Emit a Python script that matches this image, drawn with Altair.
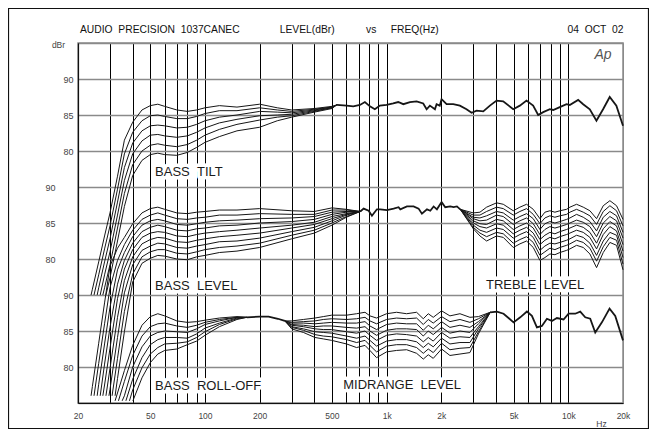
import altair as alt
import pandas as pd

NB = "\u00a0"

# dBr value that sits at the bottom edge of each of the three stacked bands
BASE = {"top": 45.0, "mid": 60.0, "bot": 75.0}

# ---------------- axes ----------------
X_GRID = [20, 30, 40, 50, 60, 70, 80, 90, 100, 200, 300, 400, 500, 600, 700, 800, 900,
          1000, 2000, 3000, 4000, 5000, 6000, 7000, 8000, 9000, 10000, 20000]
X_LABEL_F = [20, 50, 100, 200, 500, 1000, 2000, 5000, 10000, 20000]
X_LABEL_T = ["20", "50", "100", "200", "500", "1k", "2k", "5k", "10k", "20k"]
Y_GRID = [0, 5, 10, 15, 20, 25, 30, 35, 40, 45, 50]
Y_LABEL_POS = [5, 10, 15, 20, 25, 30, 35, 40, 45]
Y_LABEL_T = ["80", "85", "90", "80", "85", "90", "80", "85", "90"]

# ---------------- top band : BASS TILT ----------------
TILT_START_F = [23.6, 24.5, 25.5, 26.5, 27.4, 28.5]
TILT_START_D = 60.0
TILT_F = [24, 26, 28, 30, 33, 36, 40, 45, 50, 55, 60, 70, 80, 90, 100, 120, 150, 200, 250, 300, 400, 500]
TILT_0 = [60.8, 64.6, 68.2, 71.4, 76.5, 81.5, 84.0, 85.7, 86.3, 86.5, 86.2, 85.7, 85.5, 85.7, 86.0, 86.3, 86.1, 86.5, 86.0, 85.7, 85.9, 86.2]
TILT_1 = [None, 62.8, 66.4, 69.6, 74.7, 79.6, 82.6, 84.2, 84.9, 85.0, 84.8, 84.5, 84.5, 84.8, 85.2, 85.6, 85.6, 86.0, 85.7, 85.5, 85.8, 86.1]
TILT_2 = [None, 61.0, 64.6, 67.8, 72.9, 77.7, 81.1, 82.8, 83.5, 83.6, 83.5, 83.2, 83.3, 83.7, 84.2, 84.7, 85.0, 85.5, 85.4, 85.3, 85.7, 86.1]
TILT_3 = [None, None, 62.8, 66.0, 71.1, 75.9, 79.6, 81.4, 82.2, 82.3, 82.1, 81.9, 82.1, 82.6, 83.2, 83.9, 84.4, 84.9, 85.0, 85.1, 85.6, 86.0]
TILT_4 = [None, None, 61.0, 64.2, 69.3, 74.1, 78.1, 80.0, 80.8, 81.0, 80.8, 80.6, 80.9, 81.5, 82.2, 83.0, 83.7, 84.3, 84.7, 84.9, 85.5, 86.0]
TILT_5 = [None, None, None, 62.4, 67.5, 72.3, 76.6, 78.7, 79.5, 79.7, 79.5, 79.4, 79.8, 80.5, 81.2, 82.0, 82.8, 83.3, 84.2, 84.7, 85.4, 85.9]
TOP_SHARED_F = [531, 602, 655, 713, 759, 809, 861, 918, 999, 1087, 1158, 1235, 1344, 1462, 1590, 1660, 1730, 1844, 1883, 1960,
                2006, 2138, 2326, 2530, 2752, 2935, 3128, 3403, 3702, 4027, 4381, 4974, 5410, 5886, 6403, 6826, 7277, 7915, 8255, 8980,
                9769, 10188, 11326, 12070, 13130, 14283, 15538, 16902, 18387, 20000]
TOP_SHARED_D = [86.4, 86.3, 86.2, 86.4, 86.8, 86.2, 85.8, 86.3, 86.4, 86.6, 86.8, 86.5, 86.8, 86.9, 86.6, 85.8, 86.3, 85.8, 86.5, 86.3,
                87.2, 86.5, 86.5, 86.3, 85.8, 85.3, 85.6, 85.5, 86.3, 87.0, 86.9, 85.8, 86.3, 87.0, 86.3, 85.0, 85.4, 85.8, 85.7, 86.1,
                86.5, 86.4, 87.1, 86.5, 85.8, 84.2, 85.8, 87.5, 86.3, 83.5]

# ---------------- middle band : BASS LEVEL / TREBLE LEVEL ----------------
BASSLEV_START_F = [23.6, 24.5, 25.5, 26.5, 27.4, 28.5, 29.6, 30.8, 32.0]
BASSLEV_START_D = 61.0
BASSLEV_F = [24, 26, 28, 30, 33, 36, 40, 45, 50, 55, 60, 70, 80, 90, 100, 120, 150, 200, 300, 400, 500, 600]
BASSLEV_0 = [62.3, 68.3, 73.9, 79.0, 81.5, 83.0, 84.9, 86.4, 87.0, 87.2, 86.9, 86.4, 86.3, 86.5, 86.6, 86.8, 86.8, 87.0, 86.7, 86.6, 87.1, 86.9]
BASSLEV_1 = [None, 65.5, 71.0, 76.0, 79.8, 82.0, 84.0, 85.5, 86.1, 86.4, 86.1, 85.6, 85.5, 85.7, 85.8, 86.1, 86.1, 86.3, 86.2, 86.2, 86.8, 86.8]
BASSLEV_2 = [None, 62.6, 68.2, 73.3, 78.5, 80.9, 83.1, 84.7, 85.3, 85.5, 85.3, 84.8, 84.7, 84.9, 85.1, 85.3, 85.4, 85.6, 85.7, 85.9, 86.5, 86.6]
BASSLEV_3 = [None, None, 65.4, 70.5, 76.5, 79.8, 82.2, 83.8, 84.4, 84.7, 84.5, 84.0, 83.9, 84.2, 84.3, 84.6, 84.7, 85.0, 85.2, 85.5, 86.2, 86.5]
BASSLEV_4 = [None, None, 62.5, 67.6, 74.5, 78.6, 81.3, 83.0, 83.6, 83.8, 83.7, 83.2, 83.1, 83.4, 83.6, 83.8, 84.0, 84.3, 84.7, 85.1, 85.9, 86.3]
BASSLEV_5 = [None, None, None, 64.8, 71.9, 77.0, 80.3, 82.1, 82.7, 83.0, 82.9, 82.4, 82.3, 82.6, 82.8, 83.1, 83.3, 83.6, 84.3, 84.8, 85.6, 86.2]
BASSLEV_6 = [None, None, None, 61.9, 69.1, 75.3, 79.2, 81.2, 81.8, 82.2, 82.1, 81.6, 81.5, 81.8, 82.0, 82.4, 82.5, 82.9, 83.8, 84.4, 85.3, 86.1]
BASSLEV_7 = [None, None, None, None, 66.2, 72.7, 77.9, 80.3, 81.0, 81.3, 81.3, 80.8, 80.7, 81.0, 81.3, 81.6, 81.8, 82.2, 83.3, 84.0, 85.0, 85.9]
BASSLEV_8 = [None, None, None, None, 63.4, 69.9, 76.8, 79.4, 80.1, 80.5, 80.4, 80.0, 79.9, 80.3, 80.5, 80.9, 81.1, 81.6, 82.8, 83.6, 84.7, 85.8]
MID_SHARED_F = [716, 747, 796, 830, 884, 922, 1004, 1092, 1163, 1189, 1293, 1407, 1499, 1564, 1667, 1739, 1814, 1891, 2007, 2102, 2239, 2336, 2437, 2542]
MID_SHARED_D = [86.6, 87.0, 86.7, 86.0, 86.9, 86.9, 86.8, 87.0, 87.2, 86.9, 87.3, 87.3, 87.0, 86.3, 86.9, 86.7, 87.3, 86.9, 87.9, 87.2, 87.3, 87.2, 87.3, 86.9]
TREBLE_F = [2542, 3000, 3263, 3550, 4030, 4385, 4977, 5414, 5893, 6412, 6978, 7432, 7918, 8440, 8991, 9783, 10205, 11104, 12085, 13150, 14308, 15569, 16940, 18430, 20000]
TREBLE_0 = [86.9, 86.4, 86.5, 87.2, 87.8, 87.6, 86.7, 87.2, 87.6, 86.9, 85.6, 86.5, 86.7, 86.5, 86.7, 86.9, 87.2, 87.6, 87.2, 86.7, 85.6, 87.4, 88.1, 87.4, 85.5]
TREBLE_1 = [86.9, 86.1, 86.1, 86.6, 87.2, 87.0, 86.1, 86.6, 87.0, 86.2, 84.9, 85.7, 86.0, 85.8, 86.0, 86.2, 86.5, 86.9, 86.5, 86.0, 84.8, 86.6, 87.4, 86.7, 84.6]
TREBLE_2 = [86.9, 85.8, 85.7, 86.0, 86.6, 86.4, 85.4, 85.9, 86.3, 85.6, 84.1, 84.9, 85.2, 85.0, 85.2, 85.5, 85.7, 86.2, 85.8, 85.2, 83.9, 85.8, 86.6, 86.0, 83.7]
TREBLE_3 = [86.9, 85.6, 85.3, 85.4, 86.1, 85.9, 84.8, 85.3, 85.7, 84.9, 83.4, 84.1, 84.5, 84.3, 84.5, 84.8, 85.0, 85.4, 85.1, 84.5, 83.1, 85.0, 85.9, 85.3, 82.9]
TREBLE_4 = [86.9, 85.3, 84.9, 84.8, 85.5, 85.3, 84.1, 84.6, 85.0, 84.3, 82.7, 83.3, 83.7, 83.5, 83.8, 84.1, 84.3, 84.7, 84.4, 83.7, 82.2, 84.2, 85.2, 84.6, 82.0]
TREBLE_5 = [86.9, 85.0, 84.5, 84.3, 84.9, 84.7, 83.5, 84.0, 84.4, 83.6, 82.0, 82.6, 83.0, 82.8, 83.1, 83.4, 83.6, 84.0, 83.7, 83.0, 81.4, 83.4, 84.5, 83.9, 81.1]
TREBLE_6 = [86.9, 84.7, 84.0, 83.7, 84.3, 84.1, 82.9, 83.4, 83.8, 83.0, 81.2, 81.8, 82.2, 82.1, 82.3, 82.6, 82.8, 83.3, 83.0, 82.2, 80.5, 82.5, 83.7, 83.3, 80.2]
TREBLE_7 = [86.9, 84.4, 83.6, 83.1, 83.7, 83.5, 82.2, 82.7, 83.1, 82.3, 80.5, 81.0, 81.5, 81.3, 81.6, 81.9, 82.1, 82.6, 82.3, 81.5, 79.7, 81.7, 83.0, 82.6, 79.3]
TREBLE_8 = [86.9, 84.2, 83.2, 82.5, 83.2, 83.0, 81.6, 82.1, 82.5, 81.6, 79.8, 80.2, 80.7, 80.6, 80.9, 81.2, 81.4, 81.9, 81.6, 80.7, 78.8, 80.9, 82.3, 81.9, 78.5]

# ---------------- bottom band : BASS ROLL-OFF / MIDRANGE LEVEL ----------------
ROLL_START_F = [32.0, 33.4, 35.0, 36.7, 38.4, 40.1]
ROLL_START_D = 75.3
ROLL_F = [36, 40, 45, 50, 55, 60, 70, 80, 90, 100, 120, 150]
ROLL_0 = [79.5, 83.0, 85.8, 87.0, 87.4, 87.1, 86.4, 86.2, 86.3, 86.5, 86.8, 87.0]
ROLL_1 = [78.0, 81.6, 84.3, 85.6, 86.0, 86.1, 85.7, 85.5, 85.8, 86.2, 86.6, 86.9]
ROLL_2 = [76.0, 80.0, 82.8, 84.3, 84.8, 85.0, 84.9, 84.8, 85.3, 85.9, 86.4, 86.9]
ROLL_3 = [None, 78.3, 81.3, 83.1, 83.8, 84.1, 84.1, 84.0, 84.6, 85.4, 86.1, 86.8]
ROLL_4 = [None, 76.8, 79.9, 81.8, 82.7, 83.2, 83.3, 83.5, 84.1, 84.9, 85.9, 86.7]
ROLL_5 = [None, None, 78.5, 80.6, 81.8, 82.3, 82.5, 83.1, 83.6, 84.4, 85.6, 86.6]
BOT_SHARED_LO_F = [170, 200, 224, 252, 275]
BOT_SHARED_LO_D = [86.9, 87.0, 87.0, 86.7, 86.4]
MIDR_F = [275, 300, 348, 403, 448, 498, 602, 683, 760, 809, 880, 999, 1134, 1288, 1462, 1591, 1695, 1805, 2007, 2230, 2532, 2873, 3200, 3718]
MIDR_0 = [86.4, 86.4, 86.6, 86.8, 87.0, 87.2, 87.2, 87.4, 87.6, 87.1, 86.8, 87.4, 87.6, 87.4, 87.6, 86.7, 87.4, 86.9, 87.8, 87.1, 87.4, 86.9, 87.0, 87.6]
MIDR_1 = [86.4, 86.2, 86.3, 86.4, 86.6, 86.7, 86.6, 86.7, 86.9, 86.4, 86.0, 86.6, 86.8, 86.7, 86.8, 85.9, 86.6, 86.1, 87.0, 86.3, 86.6, 86.2, 86.7, 87.6]
MIDR_2 = [86.4, 86.1, 86.1, 86.0, 86.1, 86.2, 86.1, 86.1, 86.3, 85.7, 85.2, 85.9, 86.1, 86.0, 86.0, 85.1, 85.8, 85.3, 86.3, 85.5, 85.8, 85.5, 86.3, 87.6]
MIDR_3 = [86.4, 85.9, 85.8, 85.6, 85.7, 85.7, 85.5, 85.4, 85.6, 85.0, 84.4, 85.1, 85.3, 85.3, 85.2, 84.3, 85.0, 84.5, 85.5, 84.7, 85.0, 84.8, 86.0, 87.6]
MIDR_4 = [86.4, 85.8, 85.6, 85.3, 85.2, 85.2, 84.9, 84.7, 85.0, 84.4, 83.7, 84.4, 84.6, 84.5, 84.3, 83.5, 84.1, 83.6, 84.8, 84.0, 84.2, 84.1, 85.6, 87.6]
MIDR_5 = [86.4, 85.6, 85.3, 84.9, 84.8, 84.7, 84.3, 84.0, 84.3, 83.7, 82.9, 83.6, 83.8, 83.8, 83.5, 82.7, 83.3, 82.8, 84.0, 83.2, 83.4, 83.4, 85.3, 87.6]
MIDR_6 = [86.4, 85.5, 85.1, 84.5, 84.3, 84.2, 83.8, 83.4, 83.7, 83.0, 82.1, 82.9, 83.1, 83.1, 82.7, 81.9, 82.5, 82.0, 83.3, 82.4, 82.6, 82.7, 84.9, 87.6]
MIDR_7 = [86.4, 85.3, 84.8, 84.1, 83.9, 83.7, 83.2, 82.7, 83.0, 82.3, 81.3, 82.1, 82.3, 82.4, 81.9, 81.1, 81.7, 81.2, 82.5, 81.6, 81.8, 82.0, 84.6, 87.6]
BOT_SHARED_HI_F = [3718, 4046, 4402, 4996, 5437, 5918, 6303, 6717, 7155, 7625, 8122, 8654, 9417, 10033, 10917, 11632, 12393, 13204, 14069, 15307, 16868, 18128, 20000]
BOT_SHARED_HI_D = [87.6, 87.7, 87.4, 86.2, 86.9, 87.7, 87.1, 85.5, 85.7, 86.7, 86.4, 86.8, 86.6, 87.4, 87.4, 87.7, 86.9, 86.7, 84.8, 86.2, 88.1, 87.1, 83.7]

# ---------------- text ----------------
LABEL_TEXT = ["BASS" + NB * 2 + "TILT", "BASS" + NB * 2 + "LEVEL", "TREBLE" + NB * 2 + "LEVEL",
              "BASS" + NB * 2 + "ROLL-OFF", "MIDRANGE" + NB * 2 + "LEVEL"]
LABEL_F = [53.1, 53.1, 3520, 53.1, 577]
LABEL_D = [77.1, 76.3, 76.4, 77.4, 77.5]
LABEL_BAND = ["top", "mid", "mid", "bot", "bot"]
HEADER_PARTS = ["AUDIO" + NB * 2 + "PRECISION" + NB * 2 + "1037CANEC", "LEVEL(dBr)", "vs", "FREQ(Hz)",
                "04" + NB * 2 + "OCT" + NB * 2 + "02"]
HEADER_GAPS = [14, 11, 5, 45]
LOGO = "Ap"

# ---------------- build tables ----------------
thin_rows, bold_rows = [], []


def add(rows, name, fs, ds, band):
    assert len(fs) == len(ds), name
    for f, d in zip(fs, ds):
        if d is None:
            continue
        rows.append({"curve": name, "freq": f, "level": d - BASE[band]})


for k, arr in enumerate([TILT_0, TILT_1, TILT_2, TILT_3, TILT_4, TILT_5]):
    add(thin_rows, f"tilt{k}", [TILT_START_F[k]] + TILT_F + [TOP_SHARED_F[0]],
        [TILT_START_D] + arr + [TOP_SHARED_D[0]], "top")
add(bold_rows, "top_shared", TOP_SHARED_F, TOP_SHARED_D, "top")

for k, arr in enumerate([BASSLEV_0, BASSLEV_1, BASSLEV_2, BASSLEV_3, BASSLEV_4,
                         BASSLEV_5, BASSLEV_6, BASSLEV_7, BASSLEV_8]):
    add(thin_rows, f"basslev{k}", [BASSLEV_START_F[k]] + BASSLEV_F + [MID_SHARED_F[0]],
        [BASSLEV_START_D] + arr + [MID_SHARED_D[0]], "mid")
add(bold_rows, "mid_shared", MID_SHARED_F, MID_SHARED_D, "mid")
for k, arr in enumerate([TREBLE_0, TREBLE_1, TREBLE_2, TREBLE_3, TREBLE_4,
                         TREBLE_5, TREBLE_6, TREBLE_7, TREBLE_8]):
    add(thin_rows, f"treble{k}", TREBLE_F, arr, "mid")

for k, arr in enumerate([ROLL_0, ROLL_1, ROLL_2, ROLL_3, ROLL_4, ROLL_5]):
    add(thin_rows, f"roll{k}", [ROLL_START_F[k]] + ROLL_F + [BOT_SHARED_LO_F[0]],
        [ROLL_START_D] + arr + [BOT_SHARED_LO_D[0]], "bot")
add(bold_rows, "bot_shared_lo", BOT_SHARED_LO_F, BOT_SHARED_LO_D, "bot")
for k, arr in enumerate([MIDR_0, MIDR_1, MIDR_2, MIDR_3, MIDR_4, MIDR_5, MIDR_6, MIDR_7]):
    add(thin_rows, f"midr{k}", MIDR_F, arr, "bot")
add(bold_rows, "bot_shared_hi", BOT_SHARED_HI_F, BOT_SHARED_HI_D, "bot")

thin_df = pd.DataFrame(thin_rows)
bold_df = pd.DataFrame(bold_rows)
label_df = pd.DataFrame({
    "text": LABEL_TEXT,
    "freq": LABEL_F,
    "level": [d - BASE[b] for d, b in zip(LABEL_D, LABEL_BAND)],
})
header_text = HEADER_PARTS[0]
for gap, part in zip(HEADER_GAPS, HEADER_PARTS[1:]):
    header_text += NB * gap + part
one = pd.DataFrame({"k": [0]})

# ---------------- encodings ----------------
FONT = "Liberation Sans"
x_label_expr = (f"indexof({X_LABEL_F}, datum.value) >= 0 ? "
                f"{X_LABEL_T}[indexof({X_LABEL_F}, datum.value)] : ''")
y_label_expr = (f"indexof({Y_LABEL_POS}, datum.value) >= 0 ? "
                f"{Y_LABEL_T}[indexof({Y_LABEL_POS}, datum.value)] : ''")

x_enc = alt.X("freq:Q",
              scale=alt.Scale(type="log", domain=[20, 20000], nice=False),
              axis=alt.Axis(values=X_GRID, labelExpr=x_label_expr, grid=True,
                            gridColor={"condition": {"test": "datum.value >= 20000", "value": "#8a8a8a"},
                                       "value": "#000000"},
                            gridWidth=1.0, ticks=False, labelOverlap=False, labelFlush=False,
                            labelBound=False, labelPadding=8, labelFont=FONT, labelFontSize=8.5,
                            labelColor="#444444", title="Hz", titleFont=FONT, titleFontSize=8.5,
                            titleFontWeight="normal", titleColor="#444444", titleX=523, titleY=20,
                            titleAlign="center", titleBaseline="middle"))
y_enc = alt.Y("level:Q",
              scale=alt.Scale(domain=[0, 50], nice=False, zero=False),
              axis=alt.Axis(values=Y_GRID, labelExpr=y_label_expr, grid=True, gridColor="#8a8a8a",
                            gridWidth=1.6, ticks=False, labelOverlap=False, labelBound=False,
                            labelPadding={"condition": {"test": "datum.value >= 17.5 && datum.value <= 32.5",
                                                        "value": 23}, "value": 5},
                            labelFont=FONT, labelFontSize=9, labelColor="#444444",
                            title="dBr", titleFont=FONT, titleFontSize=8.5, titleFontWeight="normal",
                            titleColor="#444444", titleAngle=0, titleX=-20, titleY=1,
                            titleAlign="center", titleBaseline="middle"))

halo = alt.Chart(label_df).mark_text(align="left", baseline="middle", font=FONT, fontSize=13,
                                     color="white", stroke="white", strokeWidth=7,
                                     strokeJoin="round").encode(x=x_enc, y=y_enc, text="text:N")
thin = alt.Chart(thin_df).mark_line(color="#161616", strokeWidth=1.0).encode(
    x=x_enc, y=y_enc, detail="curve:N")
bold = alt.Chart(bold_df).mark_line(color="#161616", strokeWidth=1.8).encode(
    x=x_enc, y=y_enc, detail="curve:N")
labels = alt.Chart(label_df).mark_text(align="left", baseline="middle", font=FONT, fontSize=13,
                                       color="#1a1a1a").encode(x=x_enc, y=y_enc, text="text:N")
header = alt.Chart(one).mark_text(text=header_text, align="left", baseline="alphabetic", font=FONT,
                                  fontSize=10.3, color="#111111").encode(
    x=alt.value(2), y=alt.value(-9.6))
logo = alt.Chart(one).mark_text(text=LOGO, align="center", baseline="middle", font=FONT,
                                fontSize=14, fontStyle="italic", color="#555555").encode(
    x=alt.value(525), y=alt.value(12))
frame = alt.Chart(one).mark_rect(fillOpacity=0, stroke="#111111", strokeWidth=1.2).encode(
    x=alt.value(-69.5), x2=alt.value(570.5), y=alt.value(-34.5), y2=alt.value(385.5))

chart = alt.layer(halo, thin, bold, labels, header, logo, frame).properties(
    width=545, height=360,
    padding={"left": 70, "top": 35, "right": 26, "bottom": 26},
    autosize=alt.AutoSizeParams(type="none"),
    background="white",
).configure_view(stroke="#8a8a8a", strokeWidth=1.5).configure_axis(
    domainColor="#111111", domainWidth=1.2)

chart.save("out.html", embed_options={"renderer": "svg", "actions": False})
